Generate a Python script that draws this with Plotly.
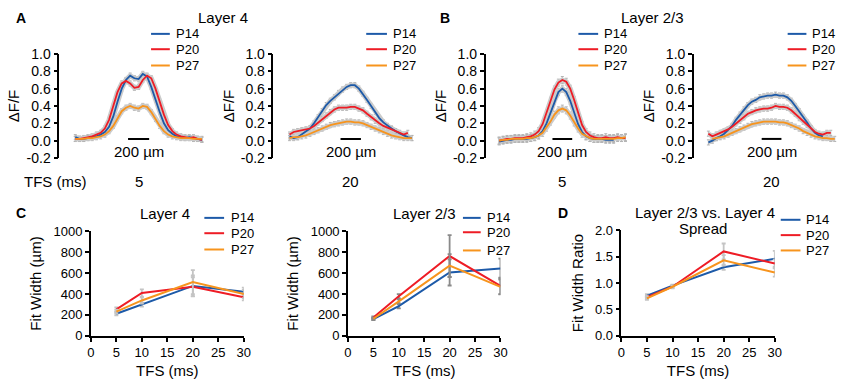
import plotly.graph_objects as go

# ---------------- DATA ----------------
SERIES = ["P14", "P20", "P27"]
COLORS = ["#1d5aa8", "#ee1c25", "#f7941d"]

# Spatial profiles (distance from centre, µm) -- Layer 4 panels
X_L4 = [-600, -560, -520, -480, -440, -400, -360, -320, -280, -240, -200, -160, -120, -80, -40, 0,
        40, 80, 120, 160, 200, 240, 280, 320, 360, 400, 440, 480, 520, 560, 600]
L4_T5_P14 = [0.04, 0.02, 0.02, 0.03, 0.04, 0.05, 0.07, 0.10, 0.16, 0.28, 0.45, 0.60, 0.70, 0.75, 0.72, 0.71,
             0.77, 0.74, 0.62, 0.47, 0.33, 0.20, 0.12, 0.08, 0.05, 0.04, 0.03, 0.04, 0.03, 0.02, 0.01]
L4_T5_P20 = [0.02, 0.02, 0.03, 0.04, 0.05, 0.07, 0.09, 0.14, 0.24, 0.40, 0.56, 0.66, 0.69, 0.66, 0.61, 0.62,
             0.70, 0.75, 0.72, 0.60, 0.45, 0.30, 0.18, 0.11, 0.07, 0.05, 0.04, 0.03, 0.04, 0.02, 0.01]
L4_T5_P27 = [0.02, 0.02, 0.02, 0.03, 0.03, 0.04, 0.05, 0.07, 0.11, 0.17, 0.26, 0.34, 0.38, 0.40, 0.38, 0.37,
             0.40, 0.39, 0.33, 0.25, 0.17, 0.11, 0.07, 0.05, 0.04, 0.03, 0.03, 0.03, 0.02, 0.02, 0.02]
L4_T20_P14 = [0.05, 0.03, 0.04, 0.07, 0.10, 0.14, 0.20, 0.27, 0.34, 0.41, 0.46, 0.50, 0.55, 0.59, 0.62, 0.64,
              0.64, 0.60, 0.54, 0.47, 0.40, 0.33, 0.26, 0.21, 0.17, 0.14, 0.11, 0.08, 0.06, 0.04, 0.03]
L4_T20_P20 = [0.07, 0.10, 0.11, 0.12, 0.13, 0.14, 0.17, 0.21, 0.25, 0.29, 0.33, 0.36, 0.38, 0.38, 0.38, 0.39,
              0.39, 0.37, 0.35, 0.31, 0.27, 0.23, 0.20, 0.17, 0.15, 0.13, 0.11, 0.09, 0.07, 0.09, None]
L4_T20_P27 = [0.03, 0.04, 0.04, 0.05, 0.06, 0.08, 0.10, 0.12, 0.14, 0.16, 0.18, 0.19, 0.20, 0.21, 0.22, 0.22,
              0.21, 0.21, 0.20, 0.18, 0.16, 0.14, 0.12, 0.10, 0.08, 0.06, 0.05, 0.04, 0.03, 0.03, 0.03]

# Layer 2/3 panels
X_L23 = [-640, -600, -560, -520, -480, -440, -400, -360, -320, -280, -240, -200, -160, -120, -80, -40, 0,
         40, 80, 120, 160, 200, 240, 280, 320, 360, 400, 440, 480, 520, 560, 600, 640]
L23_T5_P14 = [-0.01, 0.00, 0.01, 0.01, 0.02, 0.02, 0.02, 0.02, 0.03, 0.04, 0.06, 0.11, 0.20, 0.32, 0.46, 0.56, 0.60,
              0.56, 0.46, 0.32, 0.19, 0.10, 0.05, 0.03, 0.02, 0.02, 0.02, 0.01, 0.01, 0.01, None, None, None]
L23_T5_P20 = [0.00, 0.01, 0.02, 0.02, 0.03, 0.03, 0.03, 0.04, 0.05, 0.07, 0.11, 0.19, 0.32, 0.46, 0.59, 0.67, 0.70,
              0.68, 0.60, 0.47, 0.32, 0.18, 0.10, 0.06, 0.04, 0.03, 0.03, 0.04, 0.03, 0.03, 0.04, 0.03, 0.03]
L23_T5_P27 = [0.00, 0.01, 0.01, 0.02, 0.02, 0.02, 0.02, 0.03, 0.03, 0.04, 0.06, 0.09, 0.15, 0.22, 0.30, 0.35, 0.37,
              0.35, 0.29, 0.21, 0.14, 0.08, 0.05, 0.03, 0.02, 0.02, 0.02, 0.02, 0.02, 0.02, 0.03, 0.03, 0.04]
L23_T20_P14 = [-0.02, 0.00, 0.03, 0.05, 0.08, 0.12, 0.17, 0.24, 0.30, 0.36, 0.41, 0.45, 0.47, 0.50, 0.51, 0.52, 0.52,
               0.53, 0.52, 0.52, 0.50, 0.46, 0.40, 0.34, 0.27, 0.21, 0.14, 0.09, 0.06, 0.05, None, None, None]
L23_T20_P20 = [0.08, 0.05, 0.07, 0.09, 0.11, 0.13, 0.16, 0.20, 0.23, 0.27, 0.31, 0.33, 0.35, 0.36, 0.37, 0.37, 0.38,
               0.40, 0.39, 0.39, 0.38, 0.35, 0.31, 0.26, 0.22, 0.18, 0.14, 0.10, 0.08, 0.07, 0.09, 0.09, None]
L23_T20_P27 = [None, 0.02, 0.03, 0.04, 0.05, 0.07, 0.09, 0.11, 0.13, 0.15, 0.17, 0.19, 0.20, 0.21, 0.22, 0.22, 0.22,
               0.22, 0.21, 0.21, 0.20, 0.18, 0.16, 0.14, 0.11, 0.09, 0.07, 0.05, 0.04, 0.03, 0.03, 0.02, 0.02]
PROFILE_SEM = [0.03, 0.03, 0.04, 0.03]
PROFILE_TFS = ["5", "20", "5", "20"]
SCALE_BAR_UM = 200
PROFILE_YTICKS = [-0.2, 0.0, 0.2, 0.4, 0.6, 0.8, 1.0]
PROFILE_YTICKTEXT = ["-0.2", "0.0", "0.2", "0.4", "0.6", "0.8", "1.0"]

# Fit widths vs TFS
TFS = [5, 10, 20, 30]
L4_WIDTH = {"P14": [210, 298, 477, 421], "P20": [252, 409, 470, 369], "P27": [231, 338, 514, 400]}
L4_WIDTH_ERR = {"P14": [15, 20, 100, 40], "P20": [20, 35, 90, 30], "P27": [20, 30, 115, 40]}
L23_WIDTH = {"P14": [160, 283, 606, 643], "P20": [175, 378, 763, 477], "P27": [163, 329, 671, 468]}
L23_WIDTH_ERR = {"P14": [10, 20, 125, 95], "P20": [10, 20, 200, 80], "P27": [10, 20, 110, 70]}
RATIO = {"P14": [0.76, 0.95, 1.30, 1.46], "P20": [0.73, 0.93, 1.60, 1.37], "P27": [0.71, 0.93, 1.43, 1.20]}
RATIO_ERR = {"P14": [0.03, 0.02, 0.05, 0.15], "P20": [0.03, 0.03, 0.15, 0.08], "P27": [0.03, 0.02, 0.10, 0.08]}
X_TICKS = [0, 5, 10, 15, 20, 25, 30]
WIDTH_TICKS = [0, 200, 400, 600, 800, 1000]
RATIO_TICKS = [0, 0.5, 1.0, 1.5, 2.0]
RATIO_TICKTEXT = ["0.0", "0.5", "1.0", "1.5", "2.0"]

# ---------------- LAYOUT HELPERS ----------------
W, H = 844, 384
FONT = "Liberation Sans, Arial, sans-serif"


def xd(a, b):
    return [a / W, min(b / W, 1.0)]


def yd(top, bottom):
    return [1 - bottom / H, 1 - top / H]


def px(x):
    return x / W


def py(y):
    return 1 - y / H


fig = go.Figure()
annotations = []
shapes = []

profiles = [
    (X_L4, [L4_T5_P14, L4_T5_P20, L4_T5_P27]),
    (X_L4, [L4_T20_P14, L4_T20_P20, L4_T20_P27]),
    (X_L23, [L23_T5_P14, L23_T5_P20, L23_T5_P27]),
    (X_L23, [L23_T20_P14, L23_T20_P20, L23_T20_P27]),
]
top_x_domains = [(56, 205), (273, 420), (488, 640), (699, 844)]
top_x_ranges = [(-752, 642), (-758, 665), (-777, 743), (-787, 663)]
legend_top = [(149, 168, 172), (367, 388, 392), (582, 602, 606), (794, 813, 817)]
legend_top_rows = [27, 43, 60]
LEG_SIZE = 13


def axis_style(tsize):
    return dict(showline=True, linecolor="black", linewidth=1.5, ticks="outside",
                ticklen=4, tickwidth=1.5, tickcolor="black", showgrid=False, zeroline=False,
                tickfont=dict(family=FONT, size=tsize, color="black"))


for i, (xs, ys_list) in enumerate(profiles):
    n = i + 1
    xa = "x" if n == 1 else f"x{n}"
    ya = "y" if n == 1 else f"y{n}"
    # grey SEM halo first
    for ys in ys_list:
        fig.add_trace(go.Scatter(x=xs, y=ys, xaxis=xa, yaxis=ya, mode="lines",
                                 line=dict(color="#cbcbcb", width=5),
                                 error_y=dict(type="constant", value=PROFILE_SEM[i], color="#b4b4b4",
                                              thickness=1, width=1.5),
                                 showlegend=False, hoverinfo="skip", cliponaxis=False))
    for ys, name, c in zip(ys_list, SERIES, COLORS):
        fig.add_trace(go.Scatter(x=xs, y=ys, xaxis=xa, yaxis=ya, mode="lines", name=name,
                                 line=dict(color=c, width=1.8), showlegend=False, cliponaxis=False))
    xkey = "xaxis" if n == 1 else f"xaxis{n}"
    ykey = "yaxis" if n == 1 else f"yaxis{n}"
    fig.layout[xkey] = dict(domain=xd(*top_x_domains[i]), range=list(top_x_ranges[i]), visible=False,
                            anchor=ya)
    fig.layout[ykey] = dict(domain=yd(48, 156.5), range=[-0.2, 1.0], anchor=xa,
                            tickvals=PROFILE_YTICKS, ticktext=PROFILE_YTICKTEXT,
                            title=dict(text="ΔF/F", font=dict(family=FONT, size=15, color="black"), standoff=3),
                            **axis_style(14))
    # scale bar
    shapes.append(dict(type="line", xref=xa, yref=ya, x0=-SCALE_BAR_UM / 2, x1=SCALE_BAR_UM / 2,
                       y0=0.02, y1=0.02, line=dict(color="black", width=2)))
    annotations.append(dict(xref=xa, yref=ya, x=0, y=-0.12, text=f"{SCALE_BAR_UM} µm", showarrow=False,
                            font=dict(family=FONT, size=15, color="black"), xanchor="center", yanchor="middle"))
    # TFS value
    cx = (top_x_domains[i][0] + (0 - top_x_ranges[i][0]) / (top_x_ranges[i][1] - top_x_ranges[i][0])
          * (top_x_domains[i][1] - top_x_domains[i][0]))
    annotations.append(dict(xref="paper", yref="paper", x=px(cx), y=py(181), text=PROFILE_TFS[i],
                            showarrow=False, font=dict(family=FONT, size=15, color="black"),
                            xanchor="center", yanchor="middle"))
    # legend
    l0, l1, tx = legend_top[i]
    for r, name, c in zip(legend_top_rows, SERIES, COLORS):
        shapes.append(dict(type="line", xref="paper", yref="paper", x0=px(l0), x1=px(l1), y0=py(r), y1=py(r),
                           line=dict(color=c, width=2)))
        annotations.append(dict(xref="paper", yref="paper", x=px(tx), y=py(r), text=name, showarrow=False,
                                font=dict(family=FONT, size=LEG_SIZE, color="black"), xanchor="left",
                                yanchor="middle"))

# bottom panels
bottom = [
    (5, L4_WIDTH, L4_WIDTH_ERR, (88, 243), (233, 342), [0, 1000], WIDTH_TICKS, [str(v) for v in WIDTH_TICKS],
     "Fit Width (µm)", "#c4c4c4", (203, 223, 228), [219, 235, 252]),
    (6, L23_WIDTH, L23_WIDTH_ERR, (348.5, 503), (233, 342), [0, 1000], WIDTH_TICKS,
     [str(v) for v in WIDTH_TICKS], "Fit Width (µm)", "#8a8a8a", (465, 483, 487), [219, 234, 253]),
    (7, RATIO, RATIO_ERR, (625.5, 781), (232, 342), [0, 2], RATIO_TICKS, RATIO_TICKTEXT,
     "Fit Width Ratio", "#c4c4c4", (787, 807, 811), [221, 237, 253]),
]
for (n, data, err, xdom, ydom, yr, yt, ytt, ytitle, ecol, leg, rows) in bottom:
    xa, ya = f"x{n}", f"y{n}"
    for name, c in zip(SERIES, COLORS):
        fig.add_trace(go.Scatter(x=TFS, y=data[name], xaxis=xa, yaxis=ya, mode="lines", name=name,
                                 line=dict(color=c, width=2),
                                 error_y=dict(type="data", array=err[name], color=ecol, thickness=1.8, width=2),
                                 showlegend=False, cliponaxis=False))
    fig.layout[f"xaxis{n}"] = dict(domain=xd(*xdom), range=[0, 30], anchor=ya, tickvals=X_TICKS,
                                   title=dict(text="TFS (ms)", font=dict(family=FONT, size=15, color="black"),
                                              standoff=6), **axis_style(13))
    fig.layout[f"yaxis{n}"] = dict(domain=yd(*ydom), range=yr, anchor=xa, tickvals=yt, ticktext=ytt,
                                   title=dict(text=ytitle, font=dict(family=FONT, size=15, color="black"),
                                              standoff=8), **axis_style(13))
    l0, l1, tx = leg
    for r, name, c in zip(rows, SERIES, COLORS):
        shapes.append(dict(type="line", xref="paper", yref="paper", x0=px(l0), x1=px(l1), y0=py(r), y1=py(r),
                           line=dict(color=c, width=2)))
        annotations.append(dict(xref="paper", yref="paper", x=px(tx), y=py(r), text=name, showarrow=False,
                                font=dict(family=FONT, size=LEG_SIZE, color="black"), xanchor="left",
                                yanchor="middle"))

# titles, labels, panel letters
texts = [
    ("A", 17, 10, True), ("B", 447, 10, True), ("C", 17, 214, True), ("D", 566, 214, True),
    ("Layer 4", 222, 10, False), ("Layer 2/3", 657, 10, False),
    ("Layer 4", 163, 214, False), ("Layer 2/3", 426, 214, False),
    ("Layer 2/3 vs. Layer 4", 710, 213, False), ("Spread", 708, 230, False),
    ("TFS (ms)", 52, 181, False),
]
for t, x, y, bold in texts:
    annotations.append(dict(xref="paper", yref="paper", x=px(x), y=py(y),
                            text=f"<b>{t}</b>" if bold else t, showarrow=False,
                            font=dict(family=FONT, size=14 if bold else 15, color="black"),
                            xanchor="center", yanchor="middle"))

fig.update_layout(width=W, height=H, margin=dict(l=0, r=0, t=0, b=0), paper_bgcolor="white",
                  plot_bgcolor="white", showlegend=False, annotations=annotations, shapes=shapes,
                  font=dict(family=FONT, color="black"))
fig.write_html("out.html", config={"displayModeBar": False},
               post_script="document.body.style.margin='0';document.body.style.overflow='hidden';")
